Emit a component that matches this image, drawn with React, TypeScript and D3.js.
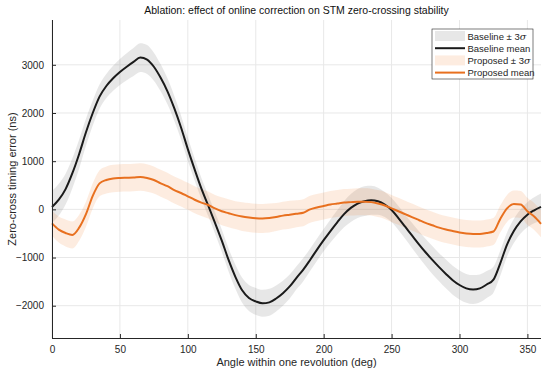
import { useEffect, useRef } from "react";
import * as d3 from "d3";

// angle grid (deg), 5 deg steps
const angles = d3.range(0, 361, 5);

const baselineMean = [
  50, 200, 420, 750, 1150, 1600, 2000, 2340, 2560, 2720,
  2850, 2960, 3060, 3150, 3110, 2960, 2730, 2450, 2100, 1700,
  1250, 830, 430, 80, -280, -650, -1050, -1400, -1680, -1840,
  -1910, -1950, -1930, -1850, -1740, -1600, -1420, -1250, -1050, -840,
  -640, -450, -270, -100, 30, 120, 170, 190, 170, 100,
  -15, -180, -360, -540, -720, -890, -1050, -1200, -1340, -1470,
  -1570, -1640, -1665, -1640, -1560, -1460, -1120, -730, -450, -250,
  -110, -20, 50,
];
const baselineBand = [
  330, 330, 320, 310, 300, 280, 260, 250, 250, 260,
  270, 280, 290, 300, 300, 290, 280, 270, 260, 250,
  240, 230, 220, 220, 220, 230, 240, 250, 260, 270,
  280, 280, 280, 270, 260, 250, 240, 240, 230, 230,
  230, 240, 250, 270, 290, 300, 310, 300, 280, 260,
  250, 250, 250, 260, 270, 280, 290, 290, 300, 300,
  300, 300, 300, 290, 280, 270, 260, 250, 250, 250,
  260, 270, 280,
];

const proposedMean = [
  -290, -420, -490, -530, -380, -100, 280, 540, 610, 640,
  650, 655, 660, 670, 650, 610, 540, 480, 400, 340,
  270, 200, 140, 90, 20, -40, -80, -120, -150, -170,
  -185, -190, -180, -160, -130, -110, -90, -70, 0, 40,
  70, 100, 120, 140, 150, 160, 160, 150, 120, 80,
  20, -40, -100, -160, -220, -280, -330, -380, -420, -450,
  -480, -500, -510, -510, -490, -460, -200, 20, 110, 100,
  -40, -150, -300,
];
const proposedBand = [
  260, 270, 280, 280, 270, 260, 260, 270, 280, 285,
  285, 285, 285, 285, 285, 280, 280, 280, 280, 280,
  280, 280, 280, 280, 280, 290, 290, 290, 300, 300,
  300, 300, 300, 290, 290, 290, 280, 280, 280, 280,
  280, 280, 280, 280, 280, 280, 280, 280, 280, 280,
  280, 280, 280, 280, 280, 280, 280, 280, 280, 280,
  280, 280, 280, 280, 280, 280, 280, 280, 280, 280,
  280, 280, 280,
];

const xTicks = [0, 50, 100, 150, 200, 250, 300, 350];
const yTicks = [-2000, -1000, 0, 1000, 2000, 3000];

export default function App() {
  const svgRef = useRef<SVGSVGElement>(null);

  useEffect(() => {
    if (!svgRef.current) return;
    const W = 550, H = 376;
    const margin = { top: 20, right: 9, bottom: 38, left: 52 };
    const width = W - margin.left - margin.right;
    const height = H - margin.top - margin.bottom;

    const svg = d3.select(svgRef.current);
    svg.selectAll("*").remove();
    svg.attr("width", W).attr("height", H);
    svg.append("rect").attr("width", W).attr("height", H).attr("fill", "#fff");

    const g = svg.append("g").attr("transform", `translate(${margin.left},${margin.top})`);

    const x = d3.scaleLinear().domain([0, 360]).range([0, width]);
    const y = d3.scaleLinear().domain([-2670, 3930]).range([height, 0]);

    const font = "Helvetica, Arial, 'Liberation Sans', sans-serif";

    // grid
    g.append("g").selectAll("line").data(xTicks).enter().append("line")
      .attr("x1", d => x(d)).attr("x2", d => x(d))
      .attr("y1", 0).attr("y2", height)
      .attr("stroke", "#e8e8e8").attr("stroke-width", 1);
    g.append("g").selectAll("line").data(yTicks).enter().append("line")
      .attr("x1", 0).attr("x2", width)
      .attr("y1", d => y(d)).attr("y2", d => y(d))
      .attr("stroke", "#e8e8e8").attr("stroke-width", 1);

    // bands
    const area = d3.area<number>()
      .x((_, i) => x(angles[i]));
    g.append("path")
      .attr("fill", "#808080").attr("fill-opacity", 0.19)
      .attr("d", area.y0((d, i) => y(d - baselineBand[i])).y1((d, i) => y(d + baselineBand[i])).curve(d3.curveMonotoneX)(baselineMean) as string);
    g.append("path")
      .attr("fill", "#f07a20").attr("fill-opacity", 0.14)
      .attr("d", area.y0((d, i) => y(d - proposedBand[i])).y1((d, i) => y(d + proposedBand[i])).curve(d3.curveMonotoneX)(proposedMean) as string);

    const line = d3.line<number>()
      .x((_, i) => x(angles[i]))
      .y(d => y(d))
      .curve(d3.curveMonotoneX);

    g.append("path")
      .attr("fill", "none").attr("stroke", "#1a1a1a").attr("stroke-width", 2)
      .attr("d", line(baselineMean));
    g.append("path")
      .attr("fill", "none").attr("stroke", "#e8701f").attr("stroke-width", 2)
      .attr("d", line(proposedMean));

    // axes
    const xAxis = d3.axisBottom(x).tickValues(xTicks).tickSize(-4).tickPadding(8).tickFormat(d3.format("d"));
    const yAxis = d3.axisLeft(y).tickValues(yTicks).tickSize(-4).tickPadding(8)
      .tickFormat(d => (d as number) < 0 ? "\u2212" + Math.abs(d as number) : String(d));
    const gx = g.append("g").attr("transform", `translate(0,${height})`).call(xAxis);
    const gy = g.append("g").call(yAxis);
    [gx, gy].forEach(a => {
      a.select(".domain").attr("stroke", "#262626").attr("stroke-width", 1);
      a.selectAll(".tick line").attr("stroke", "#262626");
      a.selectAll("text").attr("fill", "#262626").attr("font-size", 10).attr("font-family", font);
    });
    gy.select(".domain").attr("d", `M0.5,${height}V0`);
    gx.select(".domain").attr("d", `M0,0.5H${width}`);

    // labels
    svg.append("text")
      .attr("x", margin.left + width / 2).attr("y", 14)
      .attr("text-anchor", "middle").attr("fill", "#111")
      .attr("font-size", 10.5).attr("font-family", font)
      .text("Ablation: effect of online correction on STM zero-crossing stability");
    svg.append("text")
      .attr("x", margin.left + width / 2).attr("y", 366)
      .attr("text-anchor", "middle").attr("fill", "#262626")
      .attr("font-size", 11).attr("font-family", font)
      .text("Angle within one revolution (deg)");
    svg.append("text")
      .attr("transform", `translate(16,${margin.top + height / 2}) rotate(-90)`)
      .attr("text-anchor", "middle").attr("fill", "#262626")
      .attr("font-size", 11).attr("font-family", font)
      .text("Zero-cross timing error (ns)");

    // legend
    const lg = svg.append("g").attr("transform", "translate(432,29)");
    lg.append("rect").attr("width", 101).attr("height", 50)
      .attr("fill", "#fff").attr("stroke", "#262626").attr("stroke-width", 0.6);
    const items = [
      { label: "Baseline \u00b1 3", sigma: true, kind: "band", color: "#808080", op: 0.19 },
      { label: "Baseline mean", sigma: false, kind: "line", color: "#1a1a1a", op: 1 },
      { label: "Proposed \u00b1 3", sigma: true, kind: "band", color: "#f07a20", op: 0.14 },
      { label: "Proposed mean", sigma: false, kind: "line", color: "#e8701f", op: 1 },
    ];
    items.forEach((it, i) => {
      const cy = 7 + i * 12.2;
      if (it.kind === "band") {
        lg.append("rect").attr("x", 3).attr("y", cy - 5).attr("width", 30).attr("height", 10)
          .attr("fill", it.color).attr("fill-opacity", it.op);
      } else {
        lg.append("line").attr("x1", 3).attr("x2", 33).attr("y1", cy).attr("y2", cy)
          .attr("stroke", it.color).attr("stroke-width", 2);
      }
      const t = lg.append("text").attr("x", 35.5).attr("y", cy + 3.5)
        .attr("fill", "#262626").attr("font-size", 9.5).attr("font-family", font)
        .text(it.label);
      if (it.sigma) t.append("tspan").attr("font-style", "italic").attr("font-family", "'DejaVu Serif', serif").text("\u03c3");
    });
  }, []);

  return (
    <div style={{ position: "absolute", left: 0, top: 0 }}>
      <svg ref={svgRef}></svg>
    </div>
  );
}
